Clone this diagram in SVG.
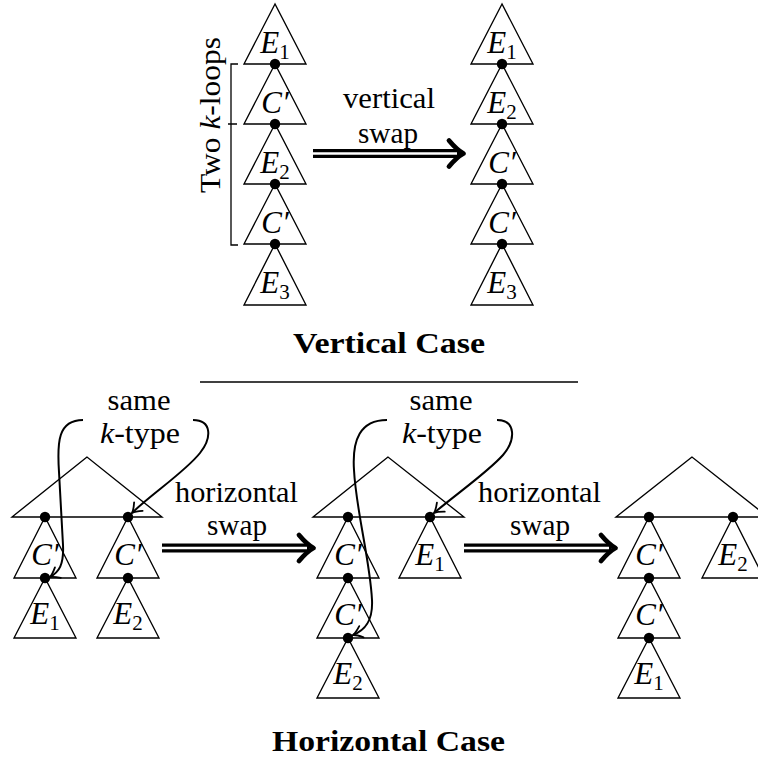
<svg xmlns="http://www.w3.org/2000/svg" width="758" height="759" viewBox="0 0 758 759">
<style>
.tri{fill:none;stroke:#000;stroke-width:1.35;stroke-linejoin:miter}
.dot{fill:#000}
.lbl{font-family:"Liberation Serif",serif;font-style:italic;font-size:31px;text-anchor:middle}
.sub{font-style:normal;font-size:21px}
.txt{font-family:"Liberation Serif",serif;font-size:29px;text-anchor:middle}
.bold{font-family:"Liberation Serif",serif;font-size:30px;font-weight:bold;text-anchor:middle}
.cur{fill:none;stroke:#000;stroke-width:2;marker-end:url(#ah)}
.dbl-o{stroke:#000;stroke-width:9}
.dbl-i{stroke:#fff;stroke-width:2.6}
.head{fill:none;stroke:#000;stroke-width:4.8;stroke-linecap:round;stroke-linejoin:round}
.rule{stroke:#000;stroke-width:1.4}
</style>
<defs>
<marker id="ah" markerUnits="userSpaceOnUse" markerWidth="16" markerHeight="16" refX="0" refY="0" viewBox="-10 -8 14 16" orient="auto" overflow="visible">
<path d="M-9,-6 Q-3.5,-1.2 0,0 Q-3.5,1.2 -9,6" fill="none" stroke="#000" stroke-width="1.8" stroke-linecap="round"/>
</marker>
</defs>

<!-- Vertical case, left column -->
<g id="vL1"><polygon class="tri" points="275,4 244,64 306,64"/><text class="lbl" x="275" y="53">E<tspan class="sub" dy="6">1</tspan></text></g>
<g id="vL2"><polygon class="tri" points="275,64 244,124 306,124"/><text class="lbl" x="275" y="113">C′</text></g>
<g id="vL3"><polygon class="tri" points="275,124 244,184 306,184"/><text class="lbl" x="275" y="173">E<tspan class="sub" dy="6">2</tspan></text></g>
<g id="vL4"><polygon class="tri" points="275,184 244,244 306,244"/><text class="lbl" x="275" y="233">C′</text></g>
<g id="vL5"><polygon class="tri" points="275,244 244,305 306,305"/><text class="lbl" x="275" y="293">E<tspan class="sub" dy="6">3</tspan></text></g>
<g id="vLdots"><circle class="dot" cx="275" cy="64" r="5.2"/><circle class="dot" cx="275" cy="124" r="5.2"/><circle class="dot" cx="275" cy="184" r="5.2"/><circle class="dot" cx="275" cy="244" r="5.2"/></g>

<!-- bracket -->
<g id="bracket">
<path d="M238,64 H231 V245 H238 M228,124 H237" fill="none" stroke="#000" stroke-width="1.3"/>
<text class="txt" transform="translate(220,115) rotate(-90)" textLength="156" lengthAdjust="spacingAndGlyphs">Two <tspan font-style="italic">k</tspan>-loops</text>
</g>

<!-- Vertical case, right column -->
<g id="vR1"><polygon class="tri" points="502,4 471,64 533,64"/><text class="lbl" x="502" y="53">E<tspan class="sub" dy="6">1</tspan></text></g>
<g id="vR2"><polygon class="tri" points="502,64 471,124 533,124"/><text class="lbl" x="502" y="113">E<tspan class="sub" dy="6">2</tspan></text></g>
<g id="vR3"><polygon class="tri" points="502,124 471,184 533,184"/><text class="lbl" x="502" y="173">C′</text></g>
<g id="vR4"><polygon class="tri" points="502,184 471,244 533,244"/><text class="lbl" x="502" y="233">C′</text></g>
<g id="vR5"><polygon class="tri" points="502,244 471,305 533,305"/><text class="lbl" x="502" y="293">E<tspan class="sub" dy="6">3</tspan></text></g>
<g id="vRdots"><circle class="dot" cx="502" cy="64" r="5.2"/><circle class="dot" cx="502" cy="124" r="5.2"/><circle class="dot" cx="502" cy="184" r="5.2"/><circle class="dot" cx="502" cy="244" r="5.2"/></g>

<g id="vlabels">
<text class="txt" x="389" y="108" textLength="92" lengthAdjust="spacingAndGlyphs">vertical</text>
<text class="txt" x="388" y="143" textLength="60" lengthAdjust="spacingAndGlyphs">swap</text>
<text class="bold" x="389" y="353" textLength="192" lengthAdjust="spacingAndGlyphs">Vertical Case</text>
</g>
<line class="rule" x1="200" y1="382" x2="578" y2="382"/>

<!-- Horizontal case, left tree -->
<g id="hA"><polygon class="tri" points="87,457 12,517 162,517"/></g>
<g id="hA1"><polygon class="tri" points="45,517 14,578 76,578"/><text class="lbl" x="45" y="565">C′</text></g>
<g id="hA2"><polygon class="tri" points="45,578 14,638 76,638"/><text class="lbl" x="45" y="624">E<tspan class="sub" dy="6">1</tspan></text></g>
<g id="hA3"><polygon class="tri" points="128,517 97,578 159,578"/><text class="lbl" x="128" y="565">C′</text></g>
<g id="hA4"><polygon class="tri" points="128,578 97,638 159,638"/><text class="lbl" x="128" y="624">E<tspan class="sub" dy="6">2</tspan></text></g>
<g id="hAdots"><circle class="dot" cx="45" cy="517" r="5.2"/><circle class="dot" cx="128" cy="517" r="5.2"/><circle class="dot" cx="45" cy="578" r="5.2"/><circle class="dot" cx="128" cy="578" r="5.2"/></g>

<!-- middle tree -->
<g id="hB"><polygon class="tri" points="388,457 313,517 464,517"/></g>
<g id="hB1"><polygon class="tri" points="348,517 317,578 379,578"/><text class="lbl" x="348" y="565">C′</text></g>
<g id="hB2"><polygon class="tri" points="430,517 399,578 461,578"/><text class="lbl" x="430" y="565">E<tspan class="sub" dy="6">1</tspan></text></g>
<g id="hB3"><polygon class="tri" points="348,578 317,638 379,638"/><text class="lbl" x="348" y="625">C′</text></g>
<g id="hB4"><polygon class="tri" points="348,638 317,698 379,698"/><text class="lbl" x="348" y="684">E<tspan class="sub" dy="6">2</tspan></text></g>
<g id="hBdots"><circle class="dot" cx="348" cy="517" r="5.2"/><circle class="dot" cx="430" cy="517" r="5.2"/><circle class="dot" cx="348" cy="578" r="5.2"/><circle class="dot" cx="348" cy="638" r="5.2"/></g>

<!-- right tree -->
<g id="hC"><polygon class="tri" points="692,457 616,517 768,517"/></g>
<g id="hC1"><polygon class="tri" points="649,517 618,578 680,578"/><text class="lbl" x="649" y="565">C′</text></g>
<g id="hC2"><polygon class="tri" points="733,517 702,578 764,578"/><text class="lbl" x="733" y="565">E<tspan class="sub" dy="6">2</tspan></text></g>
<g id="hC3"><polygon class="tri" points="649,578 618,638 680,638"/><text class="lbl" x="649" y="625">C′</text></g>
<g id="hC4"><polygon class="tri" points="649,638 618,698 680,698"/><text class="lbl" x="649" y="684">E<tspan class="sub" dy="6">1</tspan></text></g>
<g id="hCdots"><circle class="dot" cx="649" cy="517" r="5.2"/><circle class="dot" cx="733" cy="517" r="5.2"/><circle class="dot" cx="649" cy="578" r="5.2"/><circle class="dot" cx="649" cy="638" r="5.2"/></g>

<g id="hlabels">
<text class="txt" x="139" y="410" textLength="63" lengthAdjust="spacingAndGlyphs">same</text>
<text class="txt" x="140" y="443" textLength="80" lengthAdjust="spacingAndGlyphs"><tspan font-style="italic">k</tspan>-type</text>
<text class="txt" x="441" y="410" textLength="63" lengthAdjust="spacingAndGlyphs">same</text>
<text class="txt" x="442" y="443" textLength="80" lengthAdjust="spacingAndGlyphs"><tspan font-style="italic">k</tspan>-type</text>
<text class="txt" x="236.5" y="502" textLength="123" lengthAdjust="spacingAndGlyphs">horizontal</text>
<text class="txt" x="237" y="535" textLength="60" lengthAdjust="spacingAndGlyphs">swap</text>
<text class="txt" x="539.5" y="502" textLength="123" lengthAdjust="spacingAndGlyphs">horizontal</text>
<text class="txt" x="540" y="535" textLength="60" lengthAdjust="spacingAndGlyphs">swap</text>
<text class="bold" x="388.5" y="751" textLength="233" lengthAdjust="spacingAndGlyphs">Horizontal Case</text>
</g>

<!-- connectors -->
<g id="connectors">
<line class="dbl-o" x1="313" y1="153.5" x2="459" y2="153.5"/>
<line class="dbl-i" x1="313" y1="153.5" x2="457" y2="153.5"/>
<path class="head" d="M449,140.5 Q457,150 463.5,153.5 Q457,157 449,166.5"/>

<line class="dbl-o" x1="162" y1="548" x2="309" y2="548"/>
<line class="dbl-i" x1="162" y1="548" x2="307" y2="548"/>
<path class="head" d="M299,535 Q307,544.5 313.5,548 Q307,551.5 299,561"/>

<line class="dbl-o" x1="464" y1="548" x2="611" y2="548"/>
<line class="dbl-i" x1="464" y1="548" x2="609" y2="548"/>
<path class="head" d="M601,535 Q609,544.5 615.5,548 Q609,551.5 601,561"/>

<path class="cur" d="M83,420 C58,420 57,442 59,472 L63,545 C64,565 59,572 50,577"/>
<path class="cur" d="M193,420 C212,420 212,438 200,453 C185,472 150,495 132,513"/>
<path class="cur" d="M387,420 C360,420 352,440 354,470 C356,510 370,560 372,600 C373,620 366,630 353,635"/>
<path class="cur" d="M497,420 C516,420 516,440 503,455 C488,472 455,495 434,513"/>
</g>
</svg>
